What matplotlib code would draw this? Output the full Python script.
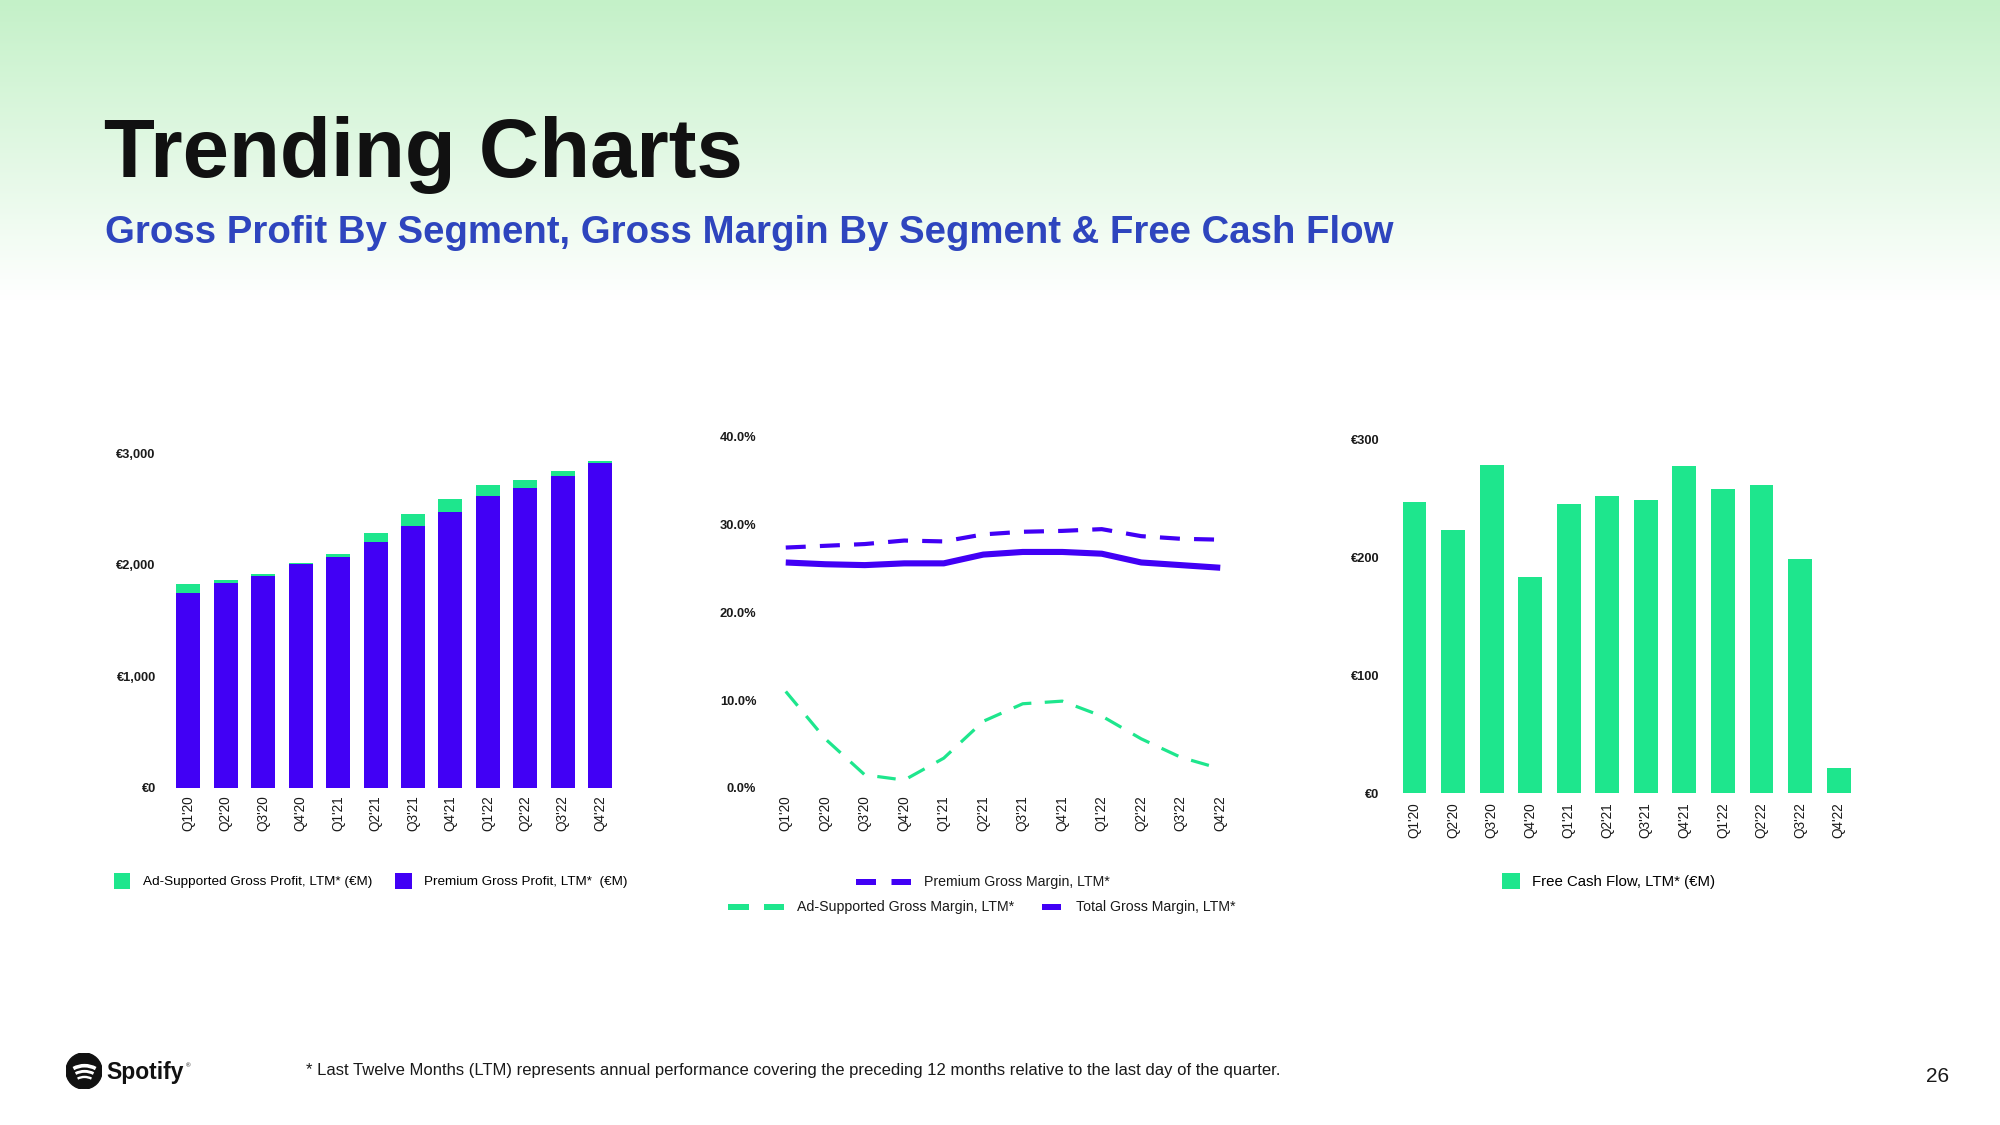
import numpy as np
import matplotlib
matplotlib.use("Agg")
import matplotlib.pyplot as plt
from matplotlib.patches import Patch, Circle, Arc
from matplotlib.lines import Line2D

plt.rcParams['font.family'] = ['Liberation Sans', 'DejaVu Sans']

# data
quarters = ["Q1'20", "Q2'20", "Q3'20", "Q4'20", "Q1'21", "Q2'21",
            "Q3'21", "Q4'21", "Q1'22", "Q2'22", "Q3'22", "Q4'22"]

premium_gp = [1744, 1836, 1902, 2010, 2073, 2204, 2348, 2474, 2617, 2689, 2797, 2907]
adsup_gp = [83, 27, 15, 7, 24, 78, 108, 116, 99, 72, 44, 24]

premium_gm = [27.4, 27.6, 27.8, 28.2, 28.1, 28.9, 29.2, 29.3, 29.5, 28.7, 28.4, 28.3]
total_gm = [25.7, 25.5, 25.4, 25.6, 25.6, 26.6, 26.9, 26.9, 26.7, 25.7, 25.4, 25.1]
adsup_gm = [11.0, 5.6, 1.5, 0.9, 3.4, 7.6, 9.6, 9.9, 8.2, 5.6, 3.5, 2.2]

fcf = [247, 223, 278, 183, 245, 252, 248, 277, 258, 261, 198, 21]

gp_ticks = [0, 1000, 2000, 3000]
gp_ticklabels = ["€0", "€1,000", "€2,000", "€3,000"]
gm_ticks = [0, 10, 20, 30, 40]
gm_ticklabels = ["0.0%", "10.0%", "20.0%", "30.0%", "40.0%"]
fcf_ticks = [0, 100, 200, 300]
fcf_ticklabels = ["€0", "€100", "€200", "€300"]

GREEN = '#1EE68D'
BLUE = '#4100F5'
TXT = '#1a1a1a'

W, H = 2000, 1125
fig = plt.figure(figsize=(20, 11.25), dpi=100)

# background gradient (light green at the top fading to white)
bg = fig.add_axes([0, 0, 1, 1], zorder=-10)
rows = np.arange(H)
t = np.clip(rows / 300.0, 0, 1)[:, None]
top = np.array([196, 241, 200]) / 255.0
grad = top * (1 - t) + np.ones(3) * t
bg.imshow(grad[:, None, :], extent=[0, 1, 0, 1], aspect='auto')
bg.axis('off')


def px_axes(left, top, right, bottom):
    return fig.add_axes([left / W, 1 - bottom / H, (right - left) / W, (bottom - top) / H])


def clean(ax, ypad, xpad):
    for s in ax.spines.values():
        s.set_visible(False)
    ax.set_facecolor('none')
    ax.tick_params(axis='y', length=0, pad=ypad, labelsize=9.3, labelcolor=TXT)
    ax.tick_params(axis='x', length=0, pad=xpad, labelsize=9.8, labelcolor=TXT, labelrotation=90)
    for lab in ax.get_yticklabels():
        lab.set_fontweight('bold')


x = np.arange(len(quarters))

# chart 1: gross profit by segment
ax1 = px_axes(169.7, 453, 618.9, 788)
ax1.bar(x, premium_gp, width=0.64, color=BLUE, label='Premium Gross Profit, LTM*  (€M)')
ax1.bar(x, adsup_gp, width=0.64, bottom=premium_gp, color=GREEN,
        label='Ad-Supported Gross Profit, LTM* (€M)')
ax1.set_xlim(-0.5, len(quarters) - 0.5)
ax1.set_ylim(0, 3000)
ax1.set_yticks(gp_ticks, gp_ticklabels)
ax1.set_xticks(x, quarters)
clean(ax1, 10, 5)
h1, l1 = ax1.get_legend_handles_labels()
ax1.legend(h1[::-1], l1[::-1], loc='center', bbox_to_anchor=(370.5 / W, 1 - 881 / H),
           bbox_transform=fig.transFigure, ncol=2, frameon=False, fontsize=9.7,
           handlelength=1.25, handleheight=1.35, handletextpad=0.9, columnspacing=1.7)

# chart 2: gross margin by segment
ax2 = px_axes(766, 437, 1240, 788)
ax2.plot(x, premium_gm, color=BLUE, lw=3, linestyle=(0, (4.8, 3.4)), clip_on=False)
ax2.plot(x, total_gm, color=BLUE, lw=4.4, solid_capstyle='butt', clip_on=False)
ax2.plot(x, adsup_gm, color=GREEN, lw=2.3, linestyle=(0, (5.8, 4.2)), clip_on=False)
ax2.set_xlim(-0.5, len(quarters) - 0.5)
ax2.set_ylim(0, 40)
ax2.set_yticks(gm_ticks, gm_ticklabels)
ax2.set_xticks(x, quarters)
clean(ax2, 7, 5)


def leg_line(x0, x1, y, color, lw_px, dash=None):
    lw = lw_px * 0.72
    kw = dict(color=color, lw=lw, solid_capstyle='butt', dash_capstyle='butt')
    if dash:
        kw['linestyle'] = (0, (dash[0] * 0.72 / lw, dash[1] * 0.72 / lw))
    fig.add_artist(Line2D([x0 / W, x1 / W], [1 - y / H, 1 - y / H], **kw))


def leg_text(x0, y, s, size=10.2):
    fig.text(x0 / W, 1 - y / H, s, ha='left', va='center', fontsize=size, color=TXT)


leg_line(856, 911, 882, BLUE, 6, dash=(20, 15.5))
leg_text(924, 882, 'Premium Gross Margin, LTM*')
leg_line(728, 784, 907, GREEN, 6, dash=(21, 15))
leg_text(797, 907, 'Ad-Supported Gross Margin, LTM*')
leg_line(1042, 1061, 907, BLUE, 6)
leg_text(1076, 907, 'Total Gross Margin, LTM*')

# chart 3: free cash flow
ax3 = px_axes(1395.2, 439, 1857.9, 793)
ax3.bar(x, fcf, width=0.62, color=GREEN, label='Free Cash Flow, LTM* (€M)')
ax3.set_xlim(-0.5, len(quarters) - 0.5)
ax3.set_ylim(0, 300)
ax3.set_yticks(fcf_ticks, fcf_ticklabels)
ax3.set_xticks(x, quarters)
clean(ax3, 11.5, 6.5)
ax3.legend(loc='center', bbox_to_anchor=(1608.5 / W, 1 - 881 / H),
           bbox_transform=fig.transFigure, frameon=False, fontsize=10.8,
           handlelength=1.2, handleheight=1.3, handletextpad=0.8)

# titles
fig.text(104 / W, 1 - 177 / H, 'Trending Charts', fontsize=60, fontweight='bold',
         color='#111111', ha='left', va='baseline')
fig.text(105 / W, 1 - 243 / H,
         'Gross Profit By Segment, Gross Margin By Segment & Free Cash Flow',
         fontsize=27.6, fontweight='bold', color='#2E45BE', ha='left', va='baseline')

# footer
fig.text(306 / W, 1 - 1070 / H,
         '* Last Twelve Months (LTM) represents annual performance covering the preceding '
         '12 months relative to the last day of the quarter.',
         fontsize=12, color=TXT, ha='left', va='center')
fig.text(1938 / W, 1 - 1077 / H, '26', fontsize=15, color=TXT, ha='center', va='center')

# spotify logo
lg = px_axes(66, 1053, 102, 1089)
lg.set_xlim(-1, 1)
lg.set_ylim(-1, 1)
lg.axis('off')
lg.add_patch(Circle((0, 0), 1, color='#111111'))
lg.add_patch(Arc((0.03, -0.98), 2.55, 2.55, theta1=61, theta2=119, color='white', lw=2.6))
lg.add_patch(Arc((0.03, -1.12), 2.2, 2.2, theta1=63, theta2=117, color='white', lw=2.1))
lg.add_patch(Arc((0.03, -1.18), 1.7, 1.7, theta1=63, theta2=117, color='white', lw=1.7))
fig.text(106 / W, 1 - 1079 / H, 'Spotify', fontsize=16.5, fontweight='bold',
         color='#111111', ha='left', va='baseline')
fig.text(186 / W, 1 - 1066 / H, '®', fontsize=4.5, color='#111111', ha='left', va='center')

fig.savefig('out.png', dpi=100)
